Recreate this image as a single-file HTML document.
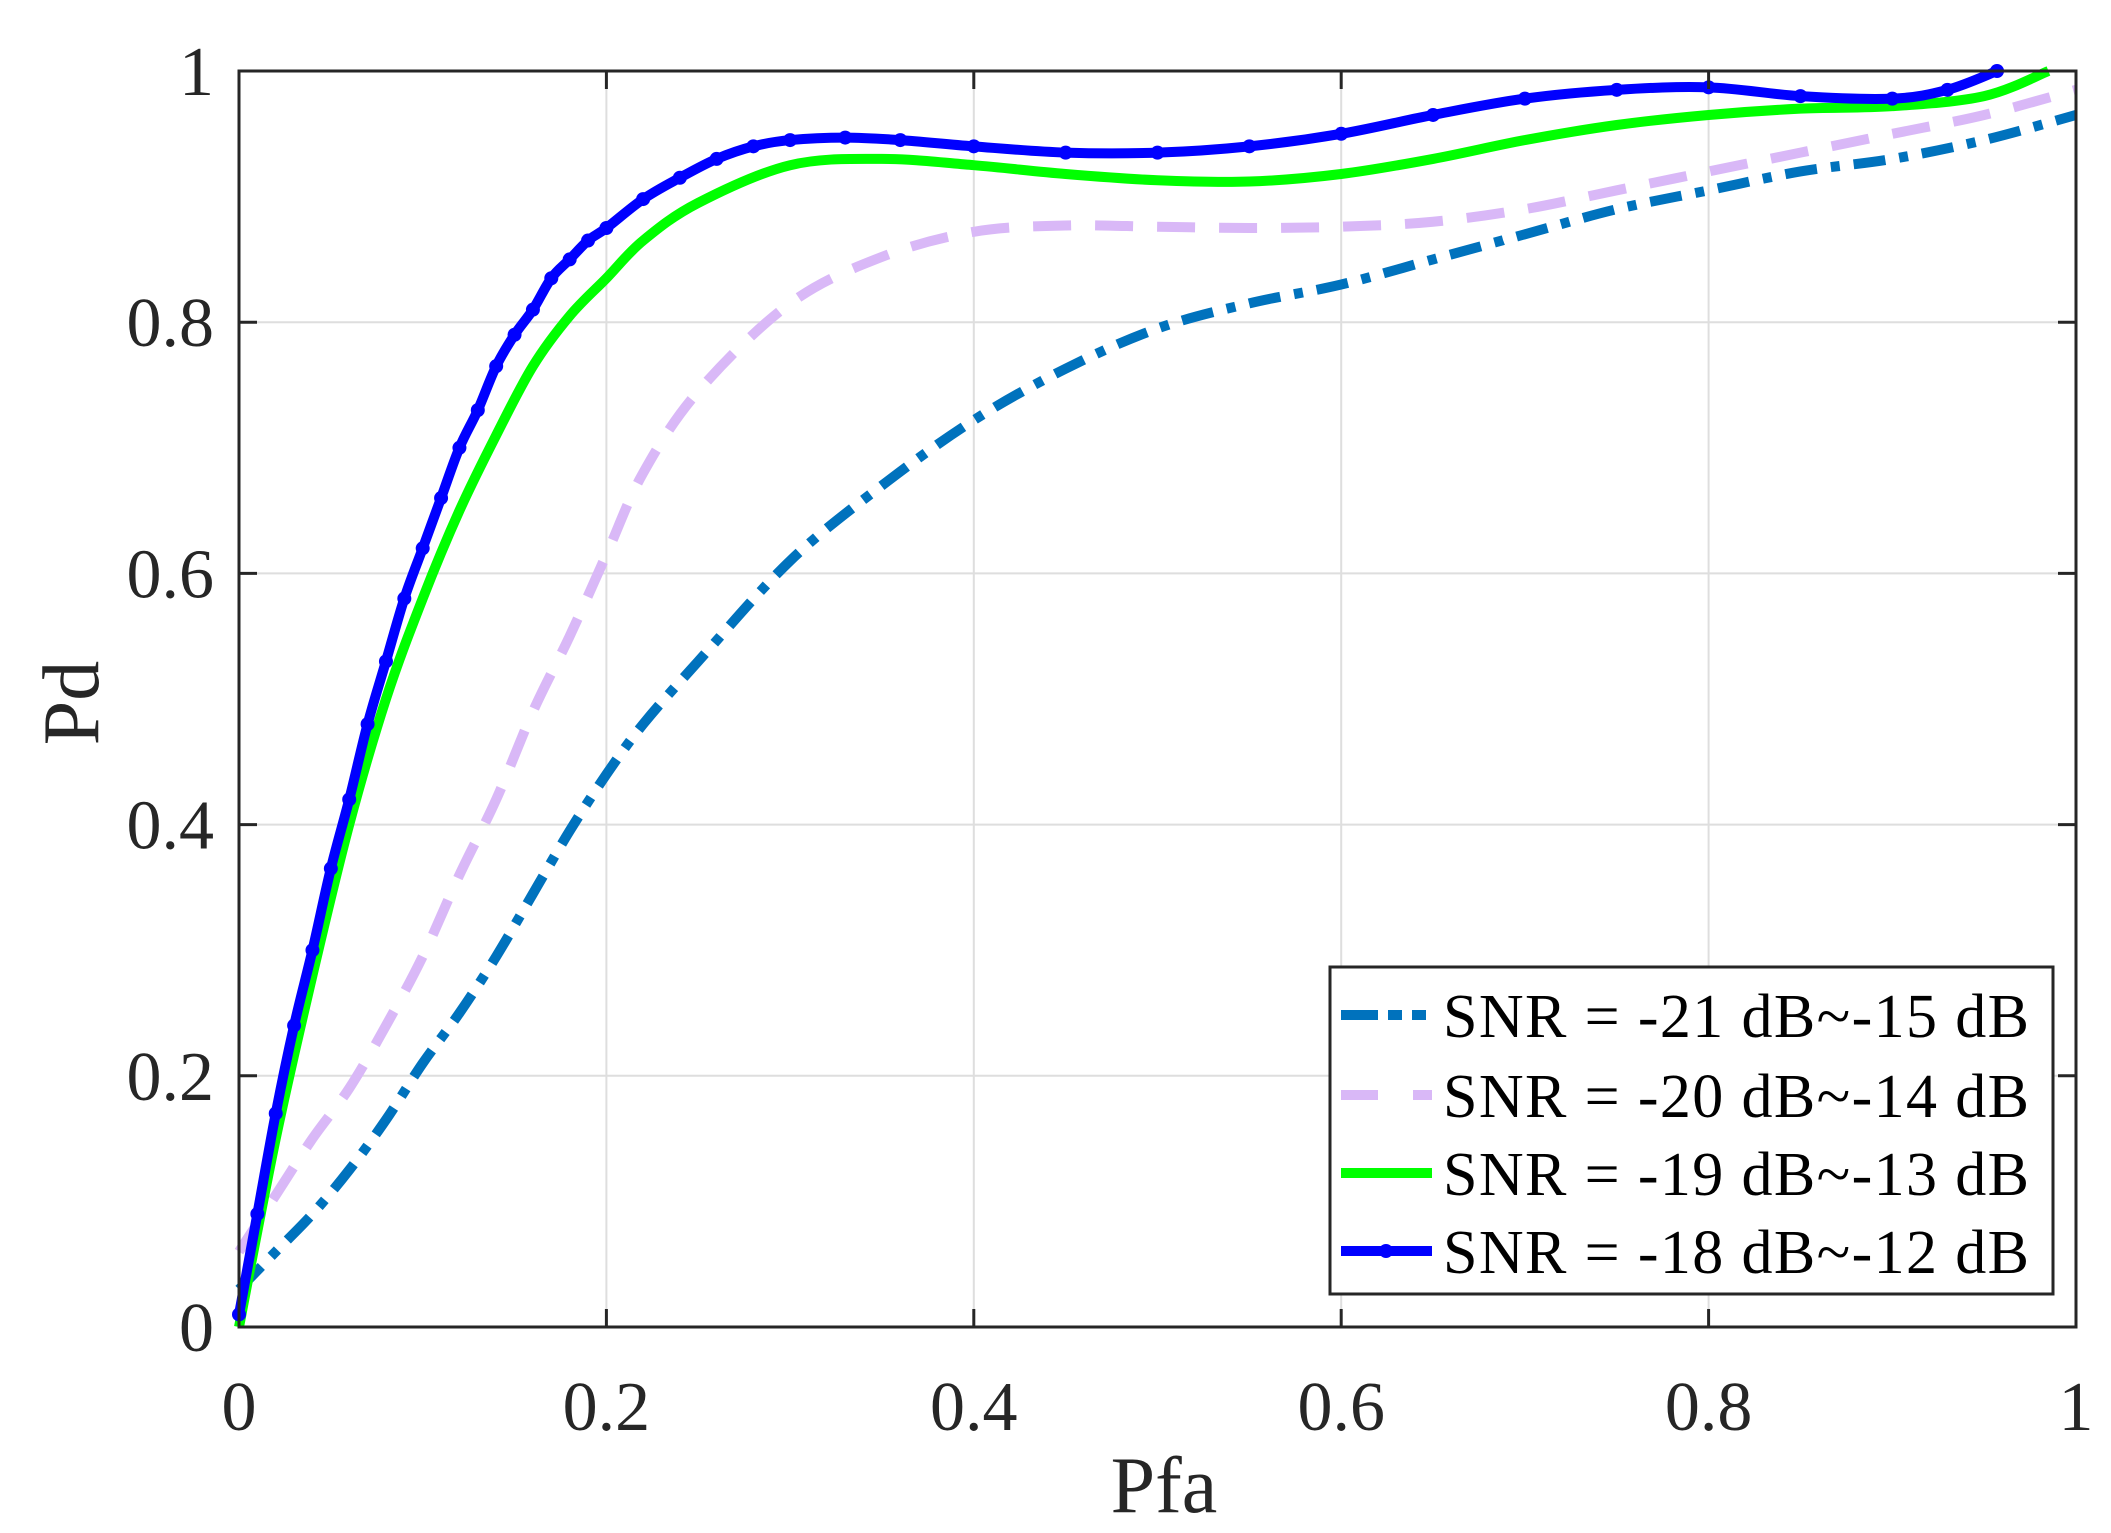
<!DOCTYPE html>
<html><head><meta charset="utf-8"><style>
html,body{margin:0;padding:0;background:#fff;}
svg{display:block;font-family:"Liberation Serif","Times New Roman",serif;}
</style></head><body>
<svg id="chart" width="2111" height="1533" viewBox="0 0 2111 1533" xmlns="http://www.w3.org/2000/svg" font-family="Liberation Serif, serif">
<rect width="2111" height="1533" fill="#fff"/>
<g id="grid"></g><g id="series"></g><g id="axes"></g><g id="legend"></g>
</svg>
<script>
const xTicks=[0,0.2,0.4,0.6,0.8,1];
const xTickLabels=["0","0.2","0.4","0.6","0.8","1"];
const yTicks=[0,0.2,0.4,0.6,0.8,1];
const yTickLabels=["0","0.2","0.4","0.6","0.8","1"];
const xsA=[0,0.02,0.04,0.06,0.08,0.1,0.12,0.14,0.16,0.18,0.2,0.22,0.25,0.3,0.35,0.4,0.45,0.5,0.55,0.6,0.65,0.7,0.75,0.8,0.85,0.9,0.95,1.0];
const pd21=[0.03,0.06,0.09,0.125,0.165,0.21,0.25,0.295,0.345,0.395,0.44,0.48,0.53,0.61,0.67,0.722,0.763,0.795,0.815,0.83,0.85,0.87,0.89,0.905,0.92,0.93,0.945,0.965];
const pd20=[0.06,0.105,0.15,0.19,0.24,0.295,0.36,0.42,0.49,0.55,0.615,0.68,0.745,0.815,0.852,0.872,0.877,0.876,0.875,0.876,0.88,0.89,0.905,0.92,0.935,0.95,0.965,0.985];
const xsG=[0,0.02,0.04,0.06,0.08,0.1,0.12,0.14,0.16,0.18,0.2,0.22,0.25,0.3,0.35,0.4,0.45,0.5,0.55,0.6,0.65,0.7,0.75,0.8,0.85,0.9,0.95,0.985];
const pd19=[0,0.15,0.28,0.40,0.50,0.58,0.65,0.71,0.765,0.805,0.835,0.865,0.895,0.925,0.93,0.925,0.918,0.913,0.912,0.918,0.93,0.945,0.957,0.965,0.97,0.972,0.98,1.0];
const xsB=[0,0.01,0.02,0.03,0.04,0.05,0.06,0.07,0.08,0.09,0.1,0.11,0.12,0.13,0.14,0.15,0.16,0.17,0.18,0.19,0.2,0.22,0.24,0.26,0.28,0.3,0.33,0.36,0.4,0.45,0.5,0.55,0.6,0.65,0.7,0.75,0.8,0.85,0.9,0.93,0.957];
const pd18=[0.01,0.09,0.17,0.24,0.30,0.365,0.42,0.48,0.53,0.58,0.62,0.66,0.70,0.73,0.765,0.79,0.81,0.835,0.85,0.865,0.875,0.898,0.915,0.93,0.94,0.945,0.947,0.945,0.94,0.935,0.935,0.94,0.95,0.965,0.978,0.985,0.987,0.98,0.978,0.985,1.0];

const L=239,R=2076,T=71,B=1327;
const sx=v=>L+v*(R-L), sy=v=>B-v*(B-T);
const NS="http://www.w3.org/2000/svg";
function mk(tag,attrs,parent){const e=document.createElementNS(NS,tag);for(const k in attrs)e.setAttribute(k,attrs[k]);parent.appendChild(e);return e;}
const grid=document.getElementById('grid'),axes=document.getElementById('axes'),ser=document.getElementById('series'),leg=document.getElementById('legend');
xTicks.forEach((t,i)=>{
 const g=mk('line',{x1:sx(t),x2:sx(t),y1:T,y2:B,stroke:'#dedede','stroke-width':2},grid);
 
 
 const tk=mk('text',{x:sx(t),y:1430,'font-size':70,'text-anchor':'middle',fill:'#262626'},axes);
 tk.textContent=xTickLabels[i];
 
 
 mk('line',{x1:sx(t),x2:sx(t),y1:B,y2:B-18,stroke:'#262626','stroke-width':3},axes);
 mk('line',{x1:sx(t),x2:sx(t),y1:T,y2:T+18,stroke:'#262626','stroke-width':3},axes);
});
yTicks.forEach((t,i)=>{
 const g=mk('line',{x1:L,x2:R,y1:sy(t),y2:sy(t),stroke:'#dedede','stroke-width':2},grid);
 
 
 const tk=mk('text',{x:214,y:sy(t)+24,'font-size':70,'text-anchor':'end',fill:'#262626'},axes);
 tk.textContent=yTickLabels[i];
 
 
 mk('line',{x1:L,x2:L+18,y1:sy(t),y2:sy(t),stroke:'#262626','stroke-width':3},axes);
 mk('line',{x1:R,x2:R-18,y1:sy(t),y2:sy(t),stroke:'#262626','stroke-width':3},axes);
});
const frame=mk('rect',{x:L,y:T,width:R-L,height:B-T,fill:'none',stroke:'#262626','stroke-width':3},axes);


const xl=mk('text',{x:1164,y:1512,'font-size':80,'text-anchor':'middle',fill:'#262626'},axes);
xl.textContent='Pfa';


const yl=mk('text',{x:0,y:0,'font-size':80,'text-anchor':'middle',fill:'#262626',transform:'translate(98,703) rotate(-90)'},axes);
yl.textContent='Pd';



function pathD(xs,ys){
 const p=xs.map((x,i)=>[sx(x),sy(ys[i])]);
 let d='M'+p[0][0]+','+p[0][1];
 for(let i=0;i<p.length-1;i++){
  const p0=p[i-1]||p[i],p1=p[i],p2=p[i+1],p3=p[i+2]||p[i+1];
  const c1=[p1[0]+(p2[0]-p0[0])/6,p1[1]+(p2[1]-p0[1])/6];
  const c2=[p2[0]-(p3[0]-p1[0])/6,p2[1]-(p3[1]-p1[1])/6];
  d+=' C'+c1[0]+','+c1[1]+' '+c2[0]+','+c2[1]+' '+p2[0]+','+p2[1];
 }
 return d;
}
const s1=mk('path',{d:pathD(xsA,pd21),fill:'none',stroke:'#0072BD','stroke-width':10,'stroke-dasharray':'32 14 9 14'},ser);


const s2=mk('path',{d:pathD(xsA,pd20),fill:'none',stroke:'#D9B8F7','stroke-width':10,'stroke-dasharray':'38 24'},ser);


const s3=mk('path',{d:pathD(xsG,pd19),fill:'none',stroke:'#00FF00','stroke-width':10},ser);


const s4=mk('path',{d:pathD(xsB,pd18),fill:'none',stroke:'#0000FF','stroke-width':10},ser);


xsB.forEach((x,i)=>{
 const m=mk('circle',{cx:sx(x),cy:sy(pd18[i]),r:7,fill:'#0000FF'},ser);
 
 
});

const lb=mk('rect',{x:1330,y:967,width:723,height:327,fill:'#fff',stroke:'#262626','stroke-width':3},leg);


const labels=['SNR = -21 dB~-15 dB','SNR = -20 dB~-14 dB','SNR = -19 dB~-13 dB','SNR = -18 dB~-12 dB'];
const cols=['#0072BD','#D9B8F7','#00FF00','#0000FF'];
const dashes=['37 10 14 10 14','37 35','none','none'];
const rowsY=[1015,1095,1173,1251];
labels.forEach((t,i)=>{
 const ln=mk('line',{x1:1341,x2:1432,y1:rowsY[i],y2:rowsY[i],stroke:cols[i],'stroke-width':10},leg);
 if(dashes[i]!=='none')ln.setAttribute('stroke-dasharray',dashes[i]);
 
 
 if(i===3){mk('circle',{cx:1386,cy:rowsY[i],r:7,fill:'#0000FF'},leg);}
 const tx=mk('text',{x:1443,y:rowsY[i]+22,'font-size':62,fill:'#000',textLength:586},leg);
 tx.textContent=t;
 
 
});
</script>
</body></html>
